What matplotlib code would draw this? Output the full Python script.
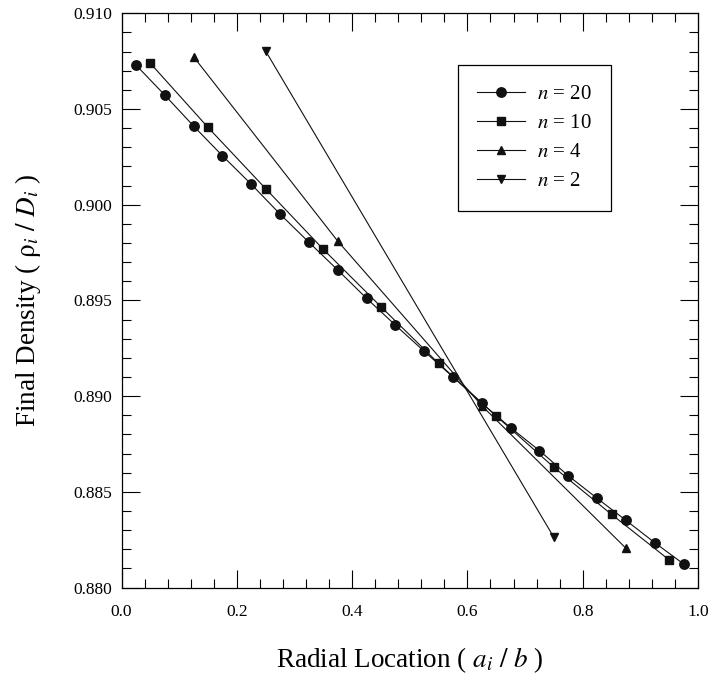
import matplotlib
matplotlib.use("Agg")
import matplotlib.pyplot as plt
from matplotlib.ticker import MultipleLocator, FormatStrFormatter

# radial positions and final densities
x_n20 = [0.025, 0.075, 0.125, 0.175, 0.225, 0.275, 0.325, 0.375, 0.425, 0.475,
         0.525, 0.575, 0.625, 0.675, 0.725, 0.775, 0.825, 0.875, 0.925, 0.975]
y_n20 = [0.90730, 0.90573, 0.90411, 0.90256, 0.90107, 0.89951, 0.89804, 0.89659, 0.89511, 0.89371,
         0.89234, 0.89100, 0.88962, 0.88835, 0.88715, 0.88584, 0.88466, 0.88351, 0.88234, 0.88123]

x_n10 = [0.05, 0.15, 0.25, 0.35, 0.45, 0.55, 0.65, 0.75, 0.85, 0.95]
y_n10 = [0.90739, 0.90404, 0.90084, 0.89767, 0.89467, 0.89171, 0.88896, 0.88628, 0.88382, 0.88144]

x_n4 = [0.125, 0.375, 0.625, 0.875]
y_n4 = [0.90773, 0.89810, 0.88950, 0.88205]

x_n2 = [0.25, 0.75]
y_n2 = [0.90803, 0.88262]

plt.rcParams['font.family'] = ['Liberation Serif', 'DejaVu Serif']
plt.rcParams['mathtext.fontset'] = 'stix'

fig = plt.figure(figsize=(7.13, 6.80), dpi=100)
ax = fig.add_axes([121.5 / 713, 1 - 587.5 / 680, 576.5 / 713, 574.2 / 680])

line_kw = dict(color='#111111', linewidth=0.8)
ax.plot(x_n20, y_n20, marker='o', markersize=6.8, label=r'$n$ = 20', **line_kw)
ax.plot(x_n10, y_n10, marker='s', markersize=5.4, label=r'$n$ = 10', **line_kw)
ax.plot(x_n4, y_n4, marker='^', markersize=6.4, label=r'$n$ = 4', **line_kw)
ax.plot(x_n2, y_n2, marker='v', markersize=6.4, label=r'$n$ = 2', **line_kw)

ax.set_xlim(0.0, 1.0)
ax.set_ylim(0.880, 0.910)
ax.xaxis.set_major_locator(MultipleLocator(0.2))
ax.xaxis.set_minor_locator(MultipleLocator(0.04))
ax.yaxis.set_major_locator(MultipleLocator(0.005))
ax.yaxis.set_minor_locator(MultipleLocator(0.001))
ax.xaxis.set_major_formatter(FormatStrFormatter('%.1f'))
ax.yaxis.set_major_formatter(FormatStrFormatter('%.3f'))
ax.tick_params(which='both', direction='in', top=True, right=True, labelsize=12.5, width=0.8)
ax.tick_params(which='major', length=13)
ax.tick_params(which='minor', length=6.5)
ax.tick_params(axis='x', which='major', pad=12)
ax.tick_params(axis='y', which='major', pad=6.5)
for s in ax.spines.values():
    s.set_linewidth(0.9)

ax.set_xlabel(r'Radial Location ( $a_i\ /\ b$ )', fontsize=19.5, va='baseline')
ax.xaxis.set_label_coords(0.5, -0.1385)
ax.set_ylabel(r'Final Density ( $\mathrm{\rho}_i\ /\ D_i$ )', fontsize=19.5, va='center')
ax.yaxis.set_label_coords(-0.162, 0.5)

leg = ax.legend(loc='upper left', bbox_to_anchor=((457.7 - 121.5) / 576.5, 1 - (65 - 13.3) / 574.2),
                fontsize=15, numpoints=1, fancybox=False, framealpha=1, edgecolor='black',
                handlelength=2.3, handletextpad=0.55, borderpad=0.95, labelspacing=0.45,
                borderaxespad=0)
leg.get_frame().set_linewidth(0.9)

fig.savefig('out.png', dpi=100)
